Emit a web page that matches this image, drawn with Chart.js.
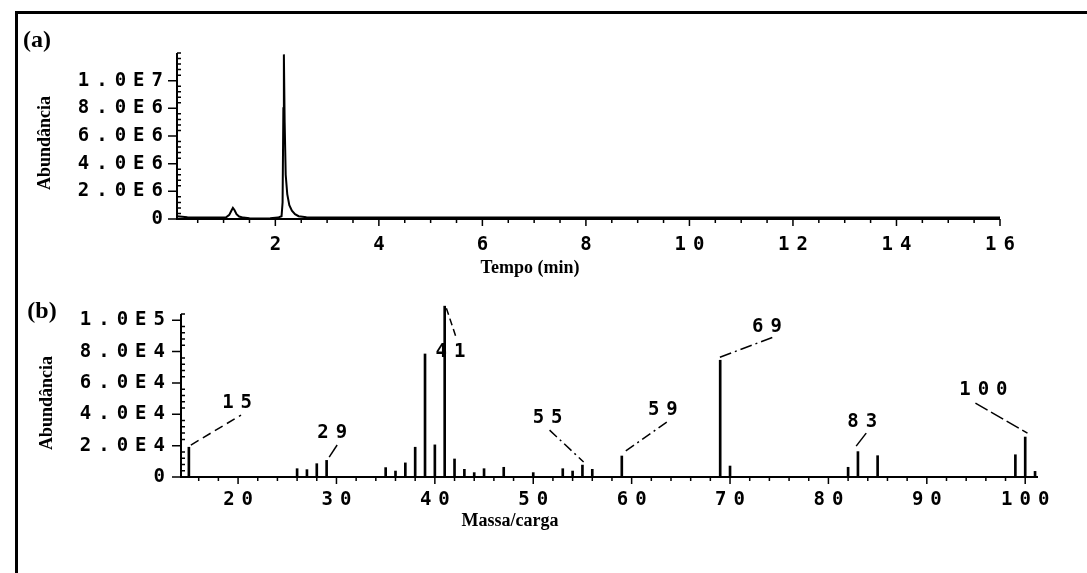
<!DOCTYPE html>
<html>
<head>
<meta charset="utf-8">
<script src="https://cdn.jsdelivr.net/npm/chart.js@4.4.0/dist/chart.umd.min.js"></script>
<style>
  html, body { margin: 0; padding: 0; background: #fff; }
  #wrap { position: relative; width: 1087px; height: 573px; overflow: hidden; }
  #frame { position: absolute; left: 15px; top: 11px; width: 1100px; height: 600px;
           border-top: 3px solid #000; border-left: 3px solid #000; }
  .box { position: absolute; left: 0; width: 1087px; }
  #boxA { top: 0; height: 280px; }
  #boxB { top: 280px; height: 293px; }
</style>
</head>
<body>
<div id="wrap">
  <div id="frame"></div>
  <div class="box" id="boxA"><canvas id="chartA"></canvas></div>
  <div class="box" id="boxB"><canvas id="chartB"></canvas></div>
</div>
<script>
// (a) cromatograma
const tempo  = [0.1, 0.3, 0.6, 0.9, 1.05, 1.11, 1.15, 1.18, 1.21, 1.25, 1.3, 1.38, 1.5, 1.7, 1.9, 2.05, 2.12,
                2.14, 2.155, 2.165, 2.18, 2.2, 2.23, 2.27, 2.32, 2.38, 2.45, 2.6, 2.9, 3.5, 4.5, 6, 8, 10, 12, 14, 16];
const abundA = [0.2e6, 0.12e6, 0.1e6, 0.1e6, 0.12e6, 0.3e6, 0.6e6, 0.8e6, 0.65e6, 0.35e6, 0.18e6, 0.1e6, 0.05e6, 0.04e6, 0.06e6, 0.1e6, 0.2e6,
                1.2e6, 8e6, 11.9e6, 7e6, 3.2e6, 1.8e6, 1.0e6, 0.6e6, 0.35e6, 0.2e6, 0.13e6, 0.1e6, 0.1e6, 0.1e6, 0.1e6, 0.1e6, 0.1e6, 0.1e6, 0.1e6, 0.1e6];
const xTicksA  = [2, 4, 6, 8, 10, 12, 14, 16];
const yTicksA  = [0, 2e6, 4e6, 6e6, 8e6, 1e7];
const yLabelsA = ['0', '2.0E6', '4.0E6', '6.0E6', '8.0E6', '1.0E7'];

// (b) espectro de massas
const massa  = [15, 26, 27, 28, 29, 35, 36, 37, 38, 39, 40, 41, 42, 43, 44, 45, 47, 50, 53, 54, 55, 56, 59, 69, 70, 82, 83, 85, 99, 100, 101];
const abundB = [1.9e4, 0.53e4, 0.47e4, 0.85e4, 1.06e4, 0.6e4, 0.38e4, 0.9e4, 1.9e4, 7.85e4, 2.05e4, 1.09e5, 1.15e4, 0.49e4, 0.28e4, 0.53e4,
                0.62e4, 0.28e4, 0.53e4, 0.38e4, 0.76e4, 0.49e4, 1.34e4, 7.45e4, 0.7e4, 0.62e4, 1.62e4, 1.36e4, 1.42e4, 2.55e4, 0.36e4];
const xTicksB  = [20, 30, 40, 50, 60, 70, 80, 90, 100];
const yTicksB  = [0, 2e4, 4e4, 6e4, 8e4, 1e5];
const yLabelsB = ['0', '2.0E4', '4.0E4', '6.0E4', '8.0E4', '1.0E5'];

// picos marcados no espectro
const picos     = ['15', '29', '41', '55', '59', '69', '83', '100'];
const picoTxtX  = [19.9, 29.56, 41.58, 51.46, 63.17, 73.76, 83.43, 95.75];
const picoTxtY  = [4.71e4, 2.8e4, 7.96e4, 3.76e4, 4.27e4, 9.55e4, 3.5e4, 5.54e4];
const guiaX1 = [15.2, 29.26, 41.17, 51.66, 63.57, 68.97, 83.84, 94.94];
const guiaY1 = [2.04e4, 1.27e4, 1.077e5, 2.99e4, 3.5e4, 7.64e4, 2.8e4, 4.71e4];
const guiaX2 = [20.3, 30.07, 42.19, 55.12, 59.09, 74.37, 82.82, 100.23];
const guiaY2 = [3.95e4, 2.04e4, 8.85e4, 0.96e4, 1.53e4, 8.92e4, 1.97e4, 2.8e4];

const MONO = "'DejaVu Sans Mono', monospace";
const SERIF = "'Liberation Serif', 'Times New Roman', serif";
const ESPACO = 7;
const tracos = [[9, 5], [], [7, 4], [10, 4, 2, 4], [10, 4, 2, 4], [12, 4, 2, 4], [], [14, 4]];

function espacar(chart) { chart.ctx.letterSpacing = ESPACO + 'px'; }

// eixos com marcas menores, como no original
const eixos = {
  id: 'eixos',
  beforeLayout: espacar,
  beforeDraw: espacar,
  afterDraw(chart, args, o) {
    const { ctx, chartArea: a, scales: { x, y } } = chart;
    ctx.save();
    ctx.letterSpacing = '0px';
    ctx.strokeStyle = '#000';
    ctx.lineWidth = 2;
    ctx.beginPath();
    ctx.moveTo(a.left, a.top); ctx.lineTo(a.left, a.bottom); ctx.lineTo(a.right, a.bottom);
    ctx.stroke();
    ctx.lineWidth = 1.5;
    ctx.beginPath();
    for (let v = o.xStep; v <= x.max + 1e-9; v += o.xStep) {
      if (v < x.min) continue;
      const px = x.getPixelForValue(v);
      const big = o.xTicks.some(t => Math.abs(t - v) < 1e-6);
      ctx.moveTo(px, a.bottom); ctx.lineTo(px, a.bottom + (big ? 7 : 4));
    }
    for (let v = 0; v <= y.max + 1e-9; v += o.yStep) {
      const py = y.getPixelForValue(v);
      const big = o.yTicks.some(t => Math.abs(t - v) < o.yStep / 10);
      if (big) { ctx.moveTo(a.left - 9, py); ctx.lineTo(a.left, py); }
      else { ctx.moveTo(a.left, py); ctx.lineTo(a.left + 4, py); }
    }
    ctx.stroke();

    ctx.fillStyle = '#000';
    ctx.font = 'bold 24px ' + SERIF;
    ctx.textAlign = 'center';
    ctx.textBaseline = 'middle';
    ctx.fillText(o.letra[0], o.letra[1], o.letra[2]);
    ctx.font = 'bold 18px ' + SERIF;
    ctx.fillText(o.titulo[0], o.titulo[1], o.titulo[2]);
    ctx.translate(o.yTitulo[0], o.yTitulo[1]);
    ctx.rotate(-Math.PI / 2);
    ctx.fillText('Abundância', 0, 0);
    ctx.restore();
  }
};

// rótulos dos picos com linhas de chamada
const rotulos = {
  id: 'rotulos',
  afterDraw(chart) {
    const { ctx, scales: { x, y } } = chart;
    ctx.save();
    ctx.strokeStyle = '#000';
    ctx.lineWidth = 1.5;
    picos.forEach((p, i) => {
      ctx.setLineDash(tracos[i]);
      ctx.beginPath();
      ctx.moveTo(x.getPixelForValue(guiaX1[i]), y.getPixelForValue(guiaY1[i]));
      ctx.lineTo(x.getPixelForValue(guiaX2[i]), y.getPixelForValue(guiaY2[i]));
      ctx.stroke();
    });
    ctx.setLineDash([]);
    ctx.letterSpacing = ESPACO + 'px';
    ctx.fillStyle = '#000';
    ctx.font = 'bold 19px ' + MONO;
    ctx.textAlign = 'center';
    ctx.textBaseline = 'middle';
    picos.forEach((p, i) => {
      ctx.fillText(p, x.getPixelForValue(picoTxtX[i]) + ESPACO / 2, y.getPixelForValue(picoTxtY[i]));
    });
    ctx.restore();
  }
};

function tickFont() { return { family: MONO, size: 19, weight: 'bold' }; }

new Chart(document.getElementById('chartA'), {
  type: 'line',
  data: {
    datasets: [{
      data: tempo.map((t, i) => ({ x: t, y: abundA[i] })),
      borderColor: '#000', borderWidth: 2, pointRadius: 0, tension: 0, fill: false
    }]
  },
  options: {
    responsive: true, maintainAspectRatio: false, animation: false,
    layout: { padding: { top: 53, right: 87, left: 0, bottom: 0 } },
    plugins: {
      legend: { display: false }, tooltip: { enabled: false },
      eixos: { xStep: 0.5, xTicks: xTicksA, yStep: 0.4e6, yTicks: yTicksA,
               letra: ['(a)', 37, 41], titulo: ['Tempo (min)', 530, 268], yTitulo: [45, 143] }
    },
    scales: {
      x: {
        type: 'linear', min: 0.1, max: 16,
        afterBuildTicks: s => { s.ticks = xTicksA.map(v => ({ value: v })); },
        afterFit: s => { s.height = 61; },
        grid: { display: false, drawTicks: false }, border: { display: false },
        ticks: { font: tickFont(), color: '#000', padding: 15, autoSkip: false, maxRotation: 0,
                 labelOffset: ESPACO / 2, callback: v => String(v) }
      },
      y: {
        min: 0, max: 1.2e7,
        afterBuildTicks: s => { s.ticks = yTicksA.map(v => ({ value: v })); },
        afterFit: s => { s.width = 177; },
        grid: { display: false, drawTicks: false }, border: { display: false },
        ticks: { font: tickFont(), color: '#000', padding: 14 - ESPACO, autoSkip: false,
                 callback: (v, i) => yLabelsA[i] }
      }
    }
  },
  plugins: [eixos]
});

new Chart(document.getElementById('chartB'), {
  type: 'bar',
  data: {
    datasets: [{
      data: massa.map((m, i) => ({ x: m, y: abundB[i] })),
      backgroundColor: '#000', borderWidth: 0, barThickness: 2, clip: false
    }]
  },
  options: {
    responsive: true, maintainAspectRatio: false, animation: false,
    layout: { padding: { top: 34, right: 49, left: 0, bottom: 0 } },
    plugins: {
      legend: { display: false }, tooltip: { enabled: false },
      eixos: { xStep: 2, xTicks: xTicksB, yStep: 0.4e4, yTicks: yTicksB,
               letra: ['(b)', 42, 32], titulo: ['Massa/carga', 510, 241], yTitulo: [47, 123] }
    },
    scales: {
      x: {
        type: 'linear', min: 14.2, max: 101.3, offset: false,
        afterBuildTicks: s => { s.ticks = xTicksB.map(v => ({ value: v })); },
        afterFit: s => { s.height = 96; },
        grid: { display: false, drawTicks: false }, border: { display: false },
        ticks: { font: tickFont(), color: '#000', padding: 12, autoSkip: false, maxRotation: 0,
                 labelOffset: ESPACO / 2, callback: v => String(v) }
      },
      y: {
        min: 0, max: 1.04e5,
        afterBuildTicks: s => { s.ticks = yTicksB.map(v => ({ value: v })); },
        afterFit: s => { s.width = 181; },
        grid: { display: false, drawTicks: false }, border: { display: false },
        ticks: { font: tickFont(), color: '#000', padding: 16 - ESPACO, autoSkip: false,
                 callback: (v, i) => yLabelsB[i] }
      }
    }
  },
  plugins: [eixos, rotulos]
});
</script>
</body>
</html>
